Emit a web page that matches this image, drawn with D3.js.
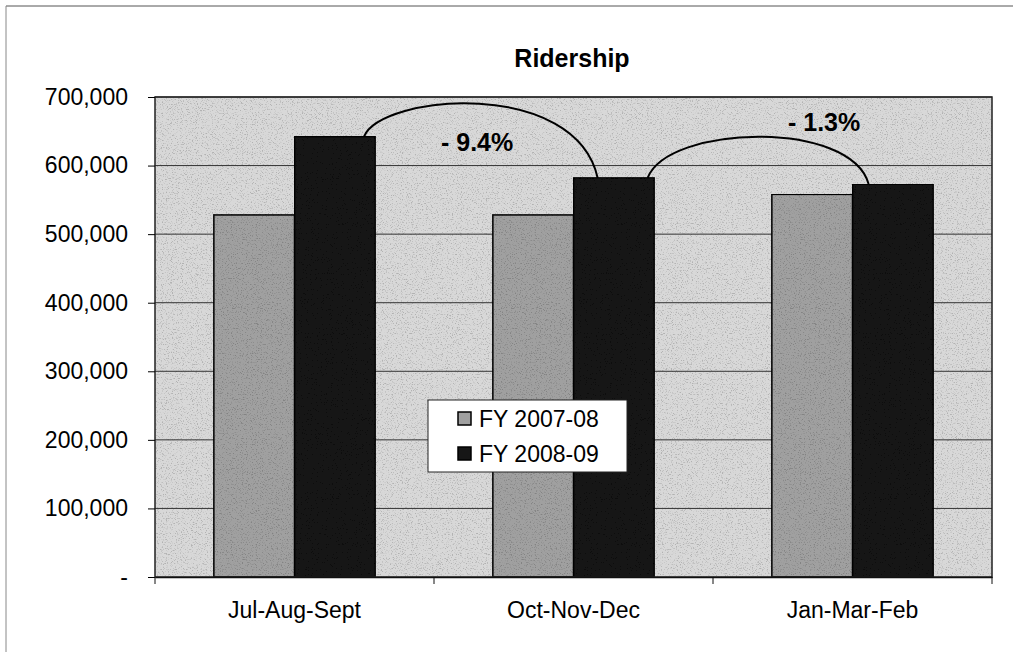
<!DOCTYPE html>
<html>
<head>
<meta charset="utf-8">
<script src="https://cdn.jsdelivr.net/npm/d3@7"></script>
<style>
	body { margin: 0; background: #fff; }
	svg { display: block; font-family: Arial, 'Liberation Sans', sans-serif; }
</style>
</head>
<body>
<svg id="chart" width="1013" height="652"></svg>
<script>
const quarters = ['Jul-Aug-Sept', 'Oct-Nov-Dec', 'Jan-Mar-Feb'];
const seriesNames = ['FY 2007-08', 'FY 2008-09'];
const fy0708 = [528000, 528000, 558000];
const fy0809 = [642000, 582000, 573000];
const changeLabels = ['- 9.4%', '- 1.3%'];
const yTicks = [0, 100000, 200000, 300000, 400000, 500000, 600000, 700000];

const svg = d3.select('#chart');

const margins = {left: 155, right: 21, top: 97, bottom: 75};
const width = 1013 - margins.left - margins.right;
const height = 652 - margins.top - margins.bottom;

// light speckle to mimic the scanned halftone
const defs = svg.append('defs');
const speckle = defs.append('filter').attr('id', 'speckle').attr('x', 0).attr('y', 0).attr('width', 1).attr('height', 1);
speckle.append('feTurbulence').attr('type', 'fractalNoise').attr('baseFrequency', 0.8).attr('numOctaves', 2).attr('seed', 7).attr('result', 'noise');
speckle.append('feColorMatrix').attr('in', 'noise').attr('type', 'matrix')
	.attr('values', '0 0 0 0 0  0 0 0 0 0  0 0 0 0 0  -5 0 0 0 2.3').attr('result', 'dots');
speckle.append('feComposite').attr('in', 'dots').attr('in2', 'SourceGraphic').attr('operator', 'in').attr('result', 'dotsIn');
speckle.append('feComponentTransfer').attr('in', 'dotsIn').attr('result', 'dotsSoft')
	.append('feFuncA').attr('type', 'linear').attr('slope', 0.35);
speckle.append('feBlend').attr('in', 'dotsSoft').attr('in2', 'SourceGraphic').attr('mode', 'normal');

// outer frame (top and left edges show in the scan)
svg.append('line')
	.attr('x1', 6).attr('x2', 1013).attr('y1', 6).attr('y2', 6)
	.attr('stroke', '#555');
svg.append('line')
	.attr('x1', 6).attr('x2', 6).attr('y1', 6).attr('y2', 652)
	.attr('stroke', '#888');

svg.append('text')
	.attr('x', 572)
	.attr('y', 67)
	.attr('text-anchor', 'middle')
	.attr('font-size', 25)
	.attr('font-weight', 'bold')
	.text('Ridership');

const g = svg.append('g').attr('transform', `translate(${margins.left},${margins.top})`);

const x = d3.scaleBand().domain(quarters).range([0, width]);
const xs = d3.scaleBand().domain(seriesNames).range([0, x.bandwidth()]).paddingOuter(0.73).paddingInner(0);
const y = d3.scaleLinear().domain([0, 700000]).range([height, 0]);

g.append('rect')
	.attr('width', width).attr('height', height)
	.attr('fill', '#d8d8d8')
	.attr('filter', 'url(#speckle)');

g.selectAll('line.grid')
	.data(yTicks.slice(1))
	.enter().append('line')
	.attr('class', 'grid')
	.attr('x1', 0).attr('x2', width)
	.attr('y1', d => y(d)).attr('y2', d => y(d))
	.attr('stroke', '#333')
	.attr('stroke-width', 1);

const data = quarters.map((q, i) => ({q, values: [fy0708[i], fy0809[i]]}));
const fills = ['#a0a0a0', '#161616'];

const groups = g.selectAll('g.quarter')
	.data(data)
	.enter().append('g')
	.attr('class', 'quarter')
	.attr('transform', d => `translate(${x(d.q)},0)`);

groups.selectAll('rect')
	.data(d => d.values.map((v, i) => ({name: seriesNames[i], v, i})))
	.enter().append('rect')
	.attr('x', d => xs(d.name))
	.attr('y', d => y(d.v))
	.attr('width', xs.bandwidth())
	.attr('height', d => height - y(d.v))
	.attr('fill', d => fills[d.i])
	.attr('stroke', '#000')
	.attr('stroke-width', 1.5)
	.attr('filter', 'url(#speckle)');

// plot border
g.append('rect')
	.attr('width', width).attr('height', height)
	.attr('fill', 'none')
	.attr('stroke', '#222')
	.attr('stroke-width', 1.5);

const yAxis = d3.axisLeft(y)
	.tickValues(yTicks)
	.tickSize(7)
	.tickPadding(20)
	.tickFormat(d => d === 0 ? '-' : d3.format(',')(d));

g.append('g')
	.call(yAxis)
	.call(a => a.select('.domain').remove())
	.call(a => a.selectAll('text').attr('font-size', 23).attr('font-family', 'Arial, Liberation Sans, sans-serif').attr('fill', '#000'));

const xAxis = d3.axisBottom(x).tickSize(0).tickPadding(25);
g.append('g')
	.attr('transform', `translate(0,${height})`)
	.call(xAxis)
	.call(a => a.select('.domain').attr('stroke', '#111').attr('stroke-width', 1.5))
	.call(a => a.selectAll('text').attr('font-size', 23).attr('font-family', 'Arial, Liberation Sans, sans-serif').attr('fill', '#000'));

// category boundary ticks
g.selectAll('line.xtick')
	.data(d3.range(quarters.length + 1))
	.enter().append('line')
	.attr('class', 'xtick')
	.attr('x1', d => d * x.step()).attr('x2', d => d * x.step())
	.attr('y1', height).attr('y2', height + 7)
	.attr('stroke', '#111');

// change arcs between FY 2008-09 bars
const bw = xs.bandwidth();
const s2 = xs(seriesNames[1]);
const arcs = [
	{from: 0, to: 1, sx: 0.86, ex: 0.3, c1: [18, -43], c2: [-22, -100], label: changeLabels[0], lx: 102, ly: 14},
	{from: 1, to: 2, sx: 0.92, ex: 0.2, c1: [20, -53], c2: [-18, -65], label: changeLabels[1], lx: 170, ly: -47},
];

arcs.forEach(a => {
	const x0 = x(quarters[a.from]) + s2 + bw * a.sx;
	const y0 = y(fy0809[a.from]);
	const x1 = x(quarters[a.to]) + s2 + bw * a.ex;
	const y1 = y(fy0809[a.to]);
	const path = d3.path();
	path.moveTo(x0, y0);
	path.bezierCurveTo(x0 + a.c1[0], y0 + a.c1[1], x1 + a.c2[0], y1 + a.c2[1], x1, y1);
	g.append('path')
		.attr('d', path.toString())
		.attr('fill', 'none')
		.attr('stroke', '#000')
		.attr('stroke-width', 2);

	g.append('text')
		.attr('x', x(quarters[a.from]) + s2 + bw + a.lx)
		.attr('y', y(fy0809[a.from]) + a.ly)
		.attr('text-anchor', 'middle')
		.attr('font-size', 25)
		.attr('font-weight', 'bold')
		.text(a.label);
});

// legend
const legend = svg.append('g').attr('transform', 'translate(428,400)');
legend.append('rect')
	.attr('width', 199).attr('height', 72)
	.attr('fill', '#fff')
	.attr('stroke', '#222')
	.attr('stroke-width', 1);

const items = legend.selectAll('g.item')
	.data(seriesNames)
	.enter().append('g')
	.attr('class', 'item')
	.attr('transform', (d, i) => `translate(30,${12 + i * 35})`);

items.append('rect')
	.attr('width', 13).attr('height', 13)
	.attr('fill', (d, i) => fills[i])
	.attr('stroke', '#000')
	.attr('stroke-width', 1.5);

items.append('text')
	.attr('x', 21)
	.attr('y', 15)
	.attr('font-size', 23)
	.text(d => d);
</script>
</body>
</html>
